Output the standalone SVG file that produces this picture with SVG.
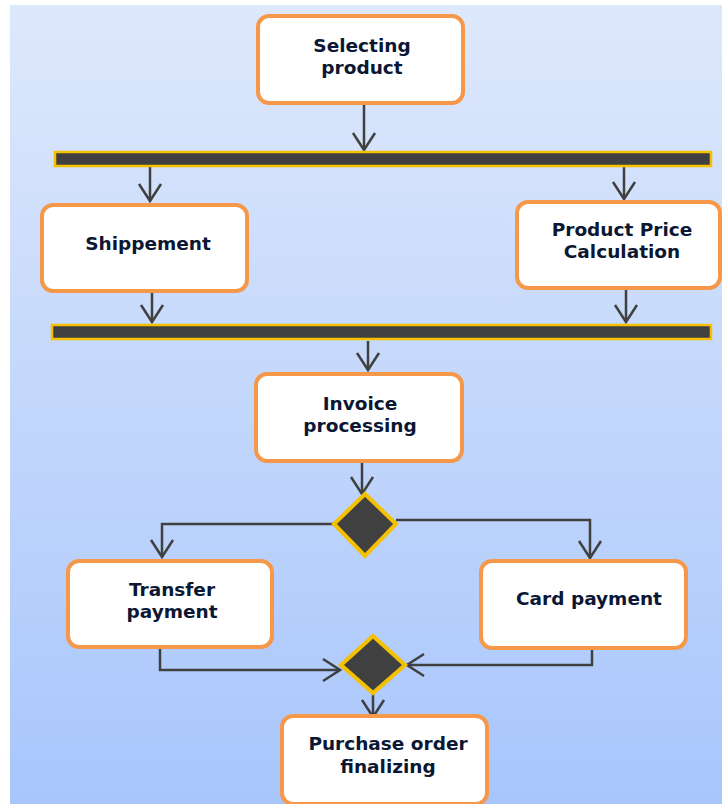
<svg xmlns="http://www.w3.org/2000/svg" width="722" height="804" viewBox="0 0 722 804">
  <defs>
    <linearGradient id="bg" x1="0" y1="0" x2="0" y2="1">
      <stop offset="0" stop-color="#dee8fb"/>
      <stop offset="1" stop-color="#a8c6fc"/>
    </linearGradient>
    <!-- open V arrowhead, drawn pointing along +x and turned with the path -->
    <marker id="open" viewBox="0 0 22 26" refX="20" refY="13" markerWidth="22" markerHeight="26" markerUnits="userSpaceOnUse" orient="auto">
      <path d="M3 2 L20 13 L3 24" fill="none" stroke="#404040" stroke-width="2.5"/>
    </marker>
  </defs>
  <style>
    .act rect { fill: #ffffff; stroke: #f5984a; stroke-width: 4; }
    .act text { font-family: "DejaVu Sans", Verdana, sans-serif; font-weight: bold; font-size: 18.5px; fill: #0b1733; text-anchor: middle; }
    .bar { fill: #404040; stroke: #f5c000; stroke-width: 2.5; }
    .dec { fill: #404040; stroke: #f5c000; stroke-width: 4; }
    .flow { fill: none; stroke: #404040; stroke-width: 2.5; }
  </style>

  <rect width="722" height="804" fill="#ffffff"/>
  <rect x="10" y="5" width="712" height="799" fill="url(#bg)"/>

  <!-- control flows -->
  <g id="connectors">
    <path class="flow" d="M364 104 V150" marker-end="url(#open)"/>
    <path class="flow" d="M150 167 V201" marker-end="url(#open)"/>
    <path class="flow" d="M624 167 V199" marker-end="url(#open)"/>
    <path class="flow" d="M152 292 V322" marker-end="url(#open)"/>
    <path class="flow" d="M626 289 V322" marker-end="url(#open)"/>
    <path class="flow" d="M368 341 V370" marker-end="url(#open)"/>
    <path class="flow" d="M362 462 V494" marker-end="url(#open)"/>
    <path class="flow" d="M334 524 H162 V557" marker-end="url(#open)"/>
    <path class="flow" d="M396 520 H590 V558" marker-end="url(#open)"/>
    <path class="flow" d="M160 648 V670 H340" marker-end="url(#open)"/>
    <path class="flow" d="M592 649 V665 H407" marker-end="url(#open)"/>
    <path class="flow" d="M373 694 V717" marker-end="url(#open)"/>
  </g>

  <g id="selecting-product" class="act">
    <rect x="258" y="16" width="205" height="87" rx="11"/>
    <text x="362" y="52">Selecting</text>
    <text x="362" y="74">product</text>
  </g>

  <g id="fork">
    <rect class="bar" x="55" y="152" width="656" height="14"/>
  </g>

  <g id="shippement" class="act">
    <rect x="42" y="205" width="205" height="86" rx="11"/>
    <text x="148" y="250">Shippement</text>
  </g>

  <g id="price-calculation" class="act">
    <rect x="517" y="202" width="203" height="86" rx="11"/>
    <text x="622" y="236">Product Price</text>
    <text x="622" y="258">Calculation</text>
  </g>

  <g id="join">
    <rect class="bar" x="52" y="325" width="659" height="14"/>
  </g>

  <g id="invoice-processing" class="act">
    <rect x="256" y="374" width="206" height="87" rx="11"/>
    <text x="360" y="410">Invoice</text>
    <text x="360" y="432">processing</text>
  </g>

  <g id="payment-decision">
    <polygon class="dec" points="365,494 396,524 365,556 334,524"/>
  </g>

  <g id="transfer-payment" class="act">
    <rect x="68" y="561" width="204" height="86" rx="11"/>
    <text x="172" y="596">Transfer</text>
    <text x="172" y="618">payment</text>
  </g>

  <g id="card-payment" class="act">
    <rect x="481" y="561" width="205" height="87" rx="11"/>
    <text x="589" y="605">Card payment</text>
  </g>

  <g id="payment-merge">
    <polygon class="dec" points="373,636 405,665 373,693 341,665"/>
  </g>

  <g id="purchase-order-finalizing" class="act">
    <rect x="282" y="716" width="205" height="88" rx="11"/>
    <text x="388" y="750">Purchase order</text>
    <text x="388" y="773">finalizing</text>
  </g>
</svg>
